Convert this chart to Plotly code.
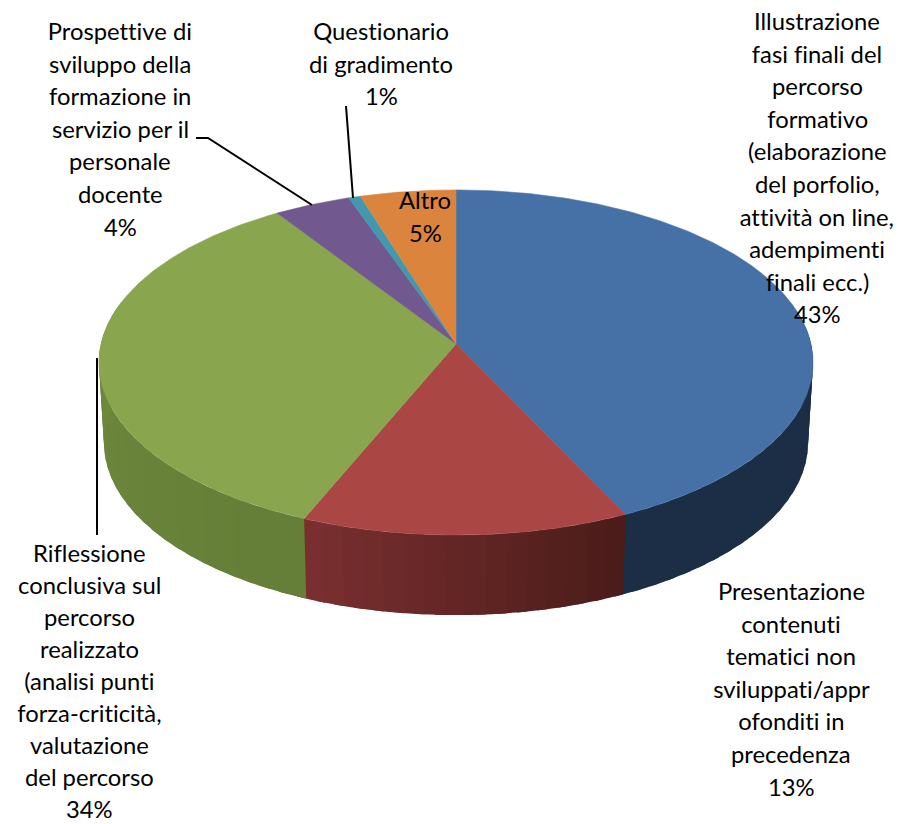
import numpy as np
import plotly.graph_objects as go

categories = ["Illustrazione fasi finali", "Presentazione contenuti", "Riflessione conclusiva",
              "Prospettive di sviluppo", "Questionario di gradimento", "Altro"]
values = [42.9, 13.4, 34.45, 3.85, 0.6, 4.8]
top_colors = ["#4571A6", "#AA4744", "#89A54E", "#71588F", "#4198AF", "#DB843D"]
wall_left = ["#1B2F47", "#7B3031", "#6F8C3D", "#4A3A60", "#2B6475", "#94572A"]
wall_right = ["#1B2E46", "#4A1C19", "#657E38", "#4A3A60", "#2B6475", "#94572A"]

label_lines = [
    ["Illustrazione", "fasi finali del", "percorso", "formativo", "(elaborazione", "del porfolio,",
     "attività on line,", "adempimenti", "finali ecc.)", "43%"],
    ["Presentazione", "contenuti", "tematici non", "sviluppati/appr", "ofonditi in", "precedenza", "13%"],
    ["Riflessione", "conclusiva sul", "percorso", "realizzato", "(analisi punti", "forza-criticità,",
     "valutazione", "del percorso", "34%"],
    ["Prospettive di", "sviluppo della", "formazione in", "servizio per il", "personale", "docente", "4%"],
    ["Questionario", "di gradimento", "1%"],
    ["Altro", "5%"],
]
label_x = [817, 791, 89, 120, 381, 425]
label_y0 = [21, 591, 553, 31, 31, 200]
label_step = [32.6, 32.6, 32.0, 32.6, 32.6, 32.6]
FONT = dict(family="Lato, Carlito, sans-serif", size=23.8, color="#000000")

CX, CY, R, S, K = 456.0, 344.0, 355.0, 170.6, 0.107
DEPTH, SHRINK = 80.0, 0.986
PAGE_MARGIN = 8  # the page body offsets the plot by this many pixels


def top(a):
    u, v = np.sin(a), -np.cos(a)
    d = 1 - K * v
    return CX + R * u / d, CY + S * v / d


def bottom(a):
    u, v = np.sin(a), -np.cos(a)
    d = 1 - K * v
    return CX + SHRINK * R * u / d, CY + S * v / d + DEPTH


def hex_rgb(h):
    return np.array([int(h[i:i + 2], 16) for i in (1, 3, 5)], float)


fig = go.Figure()
edges = np.cumsum([0] + values) / sum(values) * 2 * np.pi
WALL_FROM, WALL_TO = np.radians(78), np.radians(285)
STRIP = np.radians(3)

# side wall, in overlapping strips so that the shading runs along the rim without seams
for i in range(len(values)):
    a0, a1 = max(edges[i], WALL_FROM), min(edges[i + 1], WALL_TO)
    if a1 <= a0:
        continue
    n = max(2, int((a1 - a0) / STRIP))
    steps = np.linspace(a0, a1, n + 1)
    cl, cr = hex_rgb(wall_left[i]), hex_rgb(wall_right[i])
    for j in range(n):
        t = (j + 0.5) / n
        c = cr * (1 - t) + cl * t
        col = "rgb(%d,%d,%d)" % tuple(c)
        aa = np.linspace(steps[j], min(steps[j + 1] + STRIP / 2, WALL_TO), 5)
        tx, ty = top(aa)
        bx, by = bottom(aa[::-1])
        fig.add_trace(go.Scatter(x=np.r_[tx, bx], y=np.r_[ty, by], mode="none", fill="toself",
                                 fillcolor=col, hoverinfo="skip", showlegend=False))

# top face
for i, name in enumerate(categories):
    aa = np.linspace(edges[i], edges[i + 1], max(4, int((edges[i + 1] - edges[i]) / 0.01)))
    tx, ty = top(aa)
    fig.add_trace(go.Scatter(x=np.r_[CX, tx, CX], y=np.r_[CY, ty, CY], mode="lines", fill="toself",
                             fillcolor=top_colors[i], line=dict(color=top_colors[i], width=0.5),
                             name=name, hoverinfo="name", showlegend=False))

annotations = []
for lines, x, y0, step in zip(label_lines, label_x, label_y0, label_step):
    for k, line in enumerate(lines):
        annotations.append(dict(x=x, y=y0 + k * step, text=line, showarrow=False, xref="x", yref="y",
                                xanchor="center", yanchor="middle", font=FONT))

leader_paths = ["M196,138 L208,138 L312,205", "M346,106 L353,198", "M97,358 L97,535"]
shapes = [dict(type="path", path=p, xref="x", yref="y", line=dict(color="#000000", width=2), layer="above")
          for p in leader_paths]

fig.update_layout(
    width=903 - PAGE_MARGIN, height=824 - PAGE_MARGIN, margin=dict(l=0, r=0, t=0, b=0),
    paper_bgcolor="white", plot_bgcolor="white",
    xaxis=dict(range=[PAGE_MARGIN, 903], visible=False, fixedrange=True),
    yaxis=dict(range=[824, PAGE_MARGIN], visible=False, fixedrange=True),
    annotations=annotations, shapes=shapes, showlegend=False,
)
fig.write_html("out.html", config=dict(displayModeBar=False),
               post_script="document.querySelectorAll('.annotation text').forEach(function(t){t.style.fontVariantLigatures='none';});")
